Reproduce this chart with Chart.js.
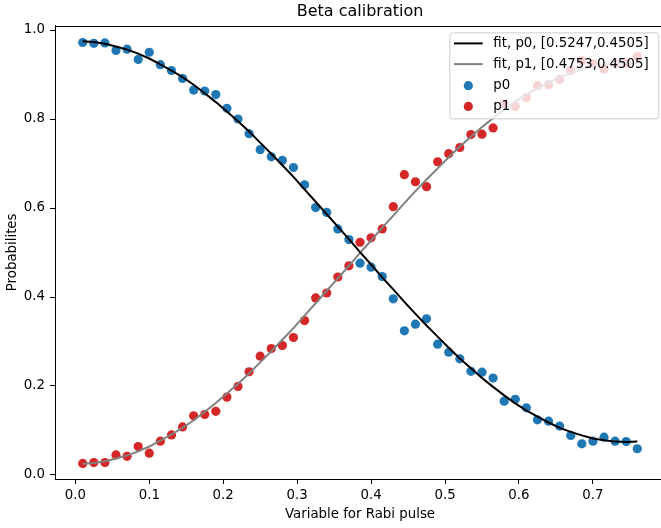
<!DOCTYPE html>
<html>
<head>
<meta charset="utf-8">
<script src="https://cdn.jsdelivr.net/npm/chart.js@4/dist/chart.umd.min.js"></script>
<style>
  html, body { margin: 0; padding: 0; background: #fff; overflow: hidden; }
  #box { width: 661px; height: 528px; overflow: hidden; }
  canvas { display: block; }
</style>
</head>
<body>
<div id="box"><canvas id="grafico" width="665" height="528"></canvas></div>
<script>
// valori
const xVals = [0.010, 0.025, 0.040, 0.055, 0.070, 0.085, 0.100, 0.115, 0.130, 0.145,
               0.160, 0.175, 0.190, 0.205, 0.220, 0.235, 0.250, 0.265, 0.280, 0.295,
               0.310, 0.325, 0.340, 0.355, 0.370, 0.385, 0.400, 0.415, 0.430, 0.445,
               0.460, 0.475, 0.490, 0.505, 0.520, 0.535, 0.550, 0.565, 0.580, 0.595,
               0.610, 0.625, 0.640, 0.655, 0.670, 0.685, 0.700, 0.715, 0.730, 0.745, 0.760];

const p0 = [0.972, 0.970, 0.971, 0.954, 0.957, 0.934, 0.950, 0.922, 0.909, 0.891,
            0.865, 0.863, 0.855, 0.824, 0.800, 0.767, 0.731, 0.715, 0.707, 0.691,
            0.652, 0.601, 0.590, 0.553, 0.529, 0.476, 0.467, 0.446, 0.396, 0.324,
            0.339, 0.351, 0.294, 0.276, 0.261, 0.233, 0.231, 0.218, 0.166, 0.170,
            0.151, 0.124, 0.121, 0.110, 0.089, 0.070, 0.076, 0.085, 0.076, 0.075, 0.059];

const p1 = [0.026, 0.028, 0.028, 0.045, 0.042, 0.064, 0.049, 0.076, 0.090, 0.108,
            0.133, 0.136, 0.143, 0.175, 0.199, 0.232, 0.267, 0.284, 0.291, 0.309,
            0.347, 0.398, 0.409, 0.445, 0.470, 0.523, 0.533, 0.553, 0.603, 0.675,
            0.659, 0.648, 0.704, 0.722, 0.736, 0.765, 0.766, 0.780, 0.834, 0.828,
            0.848, 0.875, 0.877, 0.889, 0.909, 0.931, 0.924, 0.912, 0.924, 0.925, 0.941];

const fitP0 = [0.975, 0.973, 0.969, 0.963, 0.956, 0.947, 0.936, 0.923, 0.909, 0.894,
               0.877, 0.858, 0.838, 0.817, 0.795, 0.772, 0.747, 0.722, 0.696, 0.670,
               0.642, 0.614, 0.586, 0.558, 0.530, 0.501, 0.473, 0.444, 0.417, 0.389,
               0.362, 0.336, 0.311, 0.286, 0.262, 0.240, 0.218, 0.198, 0.179, 0.161,
               0.145, 0.131, 0.118, 0.106, 0.097, 0.089, 0.082, 0.078, 0.075, 0.074, 0.075];

const fitP1 = [0.025, 0.027, 0.031, 0.037, 0.044, 0.053, 0.064, 0.077, 0.091, 0.106,
               0.123, 0.142, 0.162, 0.183, 0.205, 0.228, 0.253, 0.278, 0.304, 0.330,
               0.358, 0.386, 0.414, 0.442, 0.470, 0.499, 0.527, 0.556, 0.583, 0.611,
               0.638, 0.664, 0.689, 0.714, 0.738, 0.760, 0.782, 0.802, 0.821, 0.839,
               0.855, 0.869, 0.882, 0.894, 0.903, 0.911, 0.918, 0.922, 0.925, 0.926, 0.925];

const xTicks = [0.0, 0.1, 0.2, 0.3, 0.4, 0.5, 0.6, 0.7];
const yTicks = [0.0, 0.2, 0.4, 0.6, 0.8, 1.0];

const FONT = "'DejaVu Sans', sans-serif";

const punti = (ys) => xVals.map((x, i) => ({x: x, y: ys[i]}));

// niente padding extra per le etichette ai bordi
function azzeraPadding(s) {
    s.paddingTop = 0;
    s.paddingBottom = 0;
    s.paddingLeft = 0;
    s.paddingRight = 0;
}

// cornice completa dell'area (spine sopra e a destra)
const cornice = {
    id: 'cornice',
    afterDraw(chart) {
        const {ctx, chartArea: a} = chart;
        ctx.save();
        ctx.strokeStyle = '#000';
        ctx.lineWidth = 1;
        ctx.strokeRect(Math.round(a.left) + 0.5, Math.round(a.top) + 0.5,
                       Math.round(a.right - a.left), Math.round(a.bottom - a.top));
        ctx.restore();
    }
};

// legenda in stile matplotlib, dentro l'area del grafico
const legenda = {
    id: 'legenda',
    afterDatasetsDraw(chart) {
        const {ctx, chartArea: a} = chart;
        const w = 209, h = 86;
        const x = a.right - 6.7 - w;
        const y = a.top + 6.7;
        ctx.save();
        ctx.beginPath();
        ctx.roundRect(x + 0.5, y + 0.5, w, h, 3);
        ctx.fillStyle = 'rgba(255,255,255,0.8)';
        ctx.fill();
        ctx.strokeStyle = '#cccccc';
        ctx.lineWidth = 1;
        ctx.stroke();

        const righe = [11, 31.7, 53.3, 74];
        ctx.font = '13.33px ' + FONT;
        ctx.textBaseline = 'middle';
        ctx.textAlign = 'left';
        chart.data.datasets.forEach((ds, i) => {
            const ry = y + righe[i];
            if (ds.showLine) {
                ctx.strokeStyle = ds.borderColor;
                ctx.lineWidth = 2;
                ctx.beginPath();
                ctx.moveTo(x + 4.7, ry);
                ctx.lineTo(x + 33.4, ry);
                ctx.stroke();
            } else {
                ctx.fillStyle = ds.pointBackgroundColor;
                ctx.beginPath();
                ctx.arc(x + 19, ry, 4.6, 0, Math.PI * 2);
                ctx.fill();
            }
            ctx.fillStyle = '#000';
            ctx.fillText(ds.label, x + 44, ry);
        });
        ctx.restore();
    }
};

const ctx = document.getElementById('grafico').getContext('2d');

new Chart(ctx, {
    type: 'scatter',
    data: {
        datasets: [
            {
                label: 'fit, p0, [0.5247,0.4505]',
                data: punti(fitP0),
                showLine: true,
                borderColor: '#000000',
                borderWidth: 2,
                pointRadius: 0,
                tension: 0,
                order: 0
            },
            {
                label: 'fit, p1, [0.4753,0.4505]',
                data: punti(fitP1),
                showLine: true,
                borderColor: '#808080',
                borderWidth: 2,
                pointRadius: 0,
                tension: 0,
                order: 0
            },
            {
                label: 'p0',
                data: punti(p0),
                showLine: false,
                pointRadius: 4.6,
                pointBackgroundColor: '#1f77b4',
                pointBorderWidth: 0,
                order: 1
            },
            {
                label: 'p1',
                data: punti(p1),
                showLine: false,
                pointRadius: 4.6,
                pointBackgroundColor: '#d62728',
                pointBorderWidth: 0,
                order: 1
            }
        ]
    },
    options: {
        responsive: false,
        animation: false,
        events: [],
        layout: { padding: 0, autoPadding: false },
        plugins: {
            legend: { display: false },
            tooltip: { enabled: false },
            title: {
                display: true,
                fullSize: false,
                text: 'Beta calibration',
                color: '#000',
                font: { family: FONT, size: 16, weight: 'normal' },
                padding: { top: 2, bottom: 4.5 }
            }
        },
        scales: {
            x: {
                type: 'linear',
                min: -0.0275,
                max: 0.7975,
                afterBuildTicks: s => { s.ticks = xTicks.map(v => ({value: v})); },
                afterFit: s => { s.height = 49; azzeraPadding(s); },
                ticks: {
                    color: '#000',
                    padding: 4,
                    maxRotation: 0,
                    font: { family: FONT, size: 13.33 },
                    callback: v => v.toFixed(1)
                },
                grid: { drawOnChartArea: false, drawTicks: true, tickLength: 5, tickColor: '#000', tickWidth: 1 },
                border: { color: '#000', width: 1 },
                title: {
                    display: true,
                    text: 'Variable for Rabi pulse',
                    color: '#000',
                    font: { family: FONT, size: 13.33 },
                    padding: { top: 0, bottom: 5.3 }
                }
            },
            y: {
                type: 'linear',
                min: -0.009,
                max: 1.0097,
                afterBuildTicks: s => { s.ticks = yTicks.map(v => ({value: v})); },
                afterFit: s => { s.width = 55; azzeraPadding(s); },
                ticks: {
                    color: '#000',
                    padding: 5,
                    font: { family: FONT, size: 13.33 },
                    callback: v => v.toFixed(1)
                },
                grid: { drawOnChartArea: false, drawTicks: true, tickLength: 5, tickColor: '#000', tickWidth: 1 },
                border: { color: '#000', width: 1 },
                title: {
                    display: true,
                    text: 'Probabilites',
                    color: '#000',
                    font: { family: FONT, size: 13.33 },
                    padding: { top: 4.1, bottom: 0 }
                }
            }
        }
    },
    plugins: [cornice, legenda]
});
</script>
</body>
</html>
